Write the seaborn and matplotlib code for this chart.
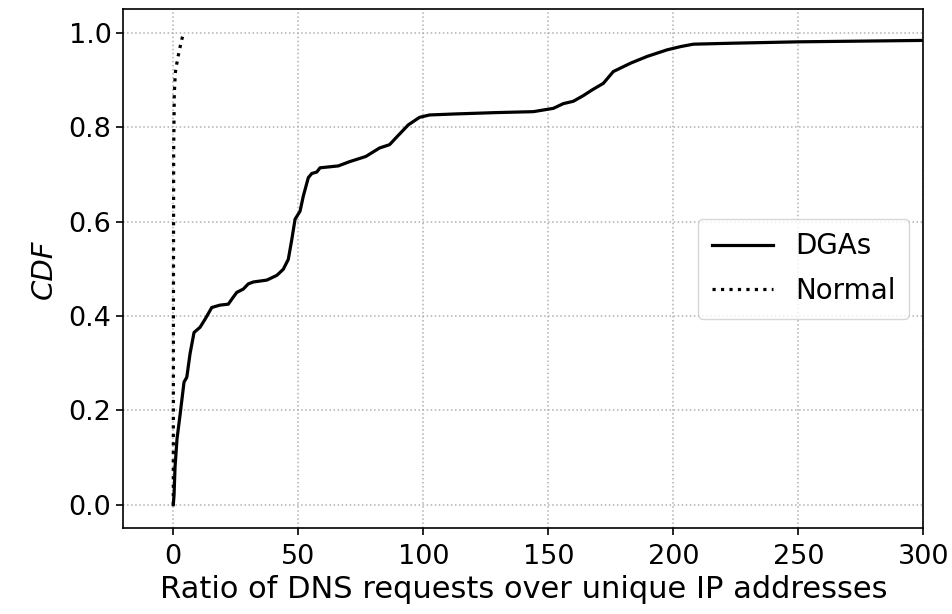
import numpy as np
import pandas as pd
import matplotlib
matplotlib.use("Agg")
import matplotlib.pyplot as plt
import seaborn as sns

# DGAs CDF (ratio, cumulative fraction)
dga_x = [0, 0.3, 0.7, 1.5, 2.7, 4.3, 5.4, 6.7, 8.3, 10.7, 12.7, 15.4, 18.7, 22, 24, 25.4,
         28, 30, 32, 37.4, 41.4, 44, 46, 47.4, 48.7, 50.7, 52, 54, 55.4, 57.4, 58.7, 66,
         70.5, 77, 82.5, 86.5, 89.5, 94, 98.5, 102.5, 112, 129, 144, 152, 156, 160, 164,
         167.5, 172, 176, 183, 189.5, 197.5, 203, 208, 223, 250, 300]
dga_y = [0, 0.02, 0.08, 0.14, 0.19, 0.26, 0.27, 0.32, 0.365, 0.376, 0.393, 0.418, 0.423, 0.425,
         0.44, 0.45, 0.457, 0.468, 0.472, 0.476, 0.486, 0.499, 0.52, 0.562, 0.605, 0.622, 0.654,
         0.693, 0.702, 0.705, 0.714, 0.718, 0.727, 0.738, 0.756, 0.763, 0.78, 0.805, 0.821, 0.826,
         0.828, 0.831, 0.833, 0.840, 0.85, 0.855, 0.867, 0.879, 0.893, 0.918, 0.936, 0.95, 0.964,
         0.971, 0.976, 0.978, 0.981, 0.984]

# Normal CDF
normal_x = [0, 0.05, 0.15, 0.4, 0.8, 1.4, 2.0, 2.6, 3.2, 4.0]
normal_y = [0, 0.4, 0.75, 0.87, 0.915, 0.935, 0.952, 0.967, 0.982, 0.998]

series_labels = ["DGAs", "Normal"]
x_ticks = [0, 50, 100, 150, 200, 250, 300]
y_ticks = [0.0, 0.2, 0.4, 0.6, 0.8, 1.0]

plt.rcParams['font.family'] = ['DejaVu Sans']

fig, ax = plt.subplots(figsize=(9.52, 6.14), dpi=100)
fig.subplots_adjust(left=0.1295, right=0.9699, top=0.9849, bottom=0.1396)

df_dga = pd.DataFrame({"x": dga_x, "y": dga_y})
df_norm = pd.DataFrame({"x": normal_x, "y": normal_y})

sns.lineplot(data=df_dga, x="x", y="y", ax=ax, color="black", linewidth=2.3,
             linestyle="-", estimator=None, sort=False, label=series_labels[0])
sns.lineplot(data=df_norm, x="x", y="y", ax=ax, color="black", linewidth=2.3,
             linestyle=":", estimator=None, sort=False, label=series_labels[1])

ax.set_xlim(-20, 300)
ax.set_ylim(-0.05, 1.05)
ax.set_xticks(x_ticks)
ax.set_yticks(y_ticks)
ax.set_xticklabels([str(t) for t in x_ticks])
ax.set_yticklabels([f"{t:.1f}" for t in y_ticks])
ax.tick_params(axis="both", labelsize=19.5, length=5, width=1.2, direction="out")
ax.tick_params(axis="x", pad=6)
ax.grid(True, linestyle=":", color="#b0b0b0", linewidth=1.1)
ax.set_axisbelow(True)
for s in ax.spines.values():
    s.set_linewidth(1.2)
    s.set_color("black")

ax.set_xlabel("Ratio of DNS requests over unique IP addresses", fontsize=22, labelpad=4)
ax.set_ylabel("CDF", fontsize=21, style="italic", labelpad=8)

ax.legend(loc="center right", fontsize=20, frameon=True, labelspacing=0.6,
          borderpad=0.5, handlelength=2.2, borderaxespad=0.5)

fig.savefig("out.png", dpi=100)
